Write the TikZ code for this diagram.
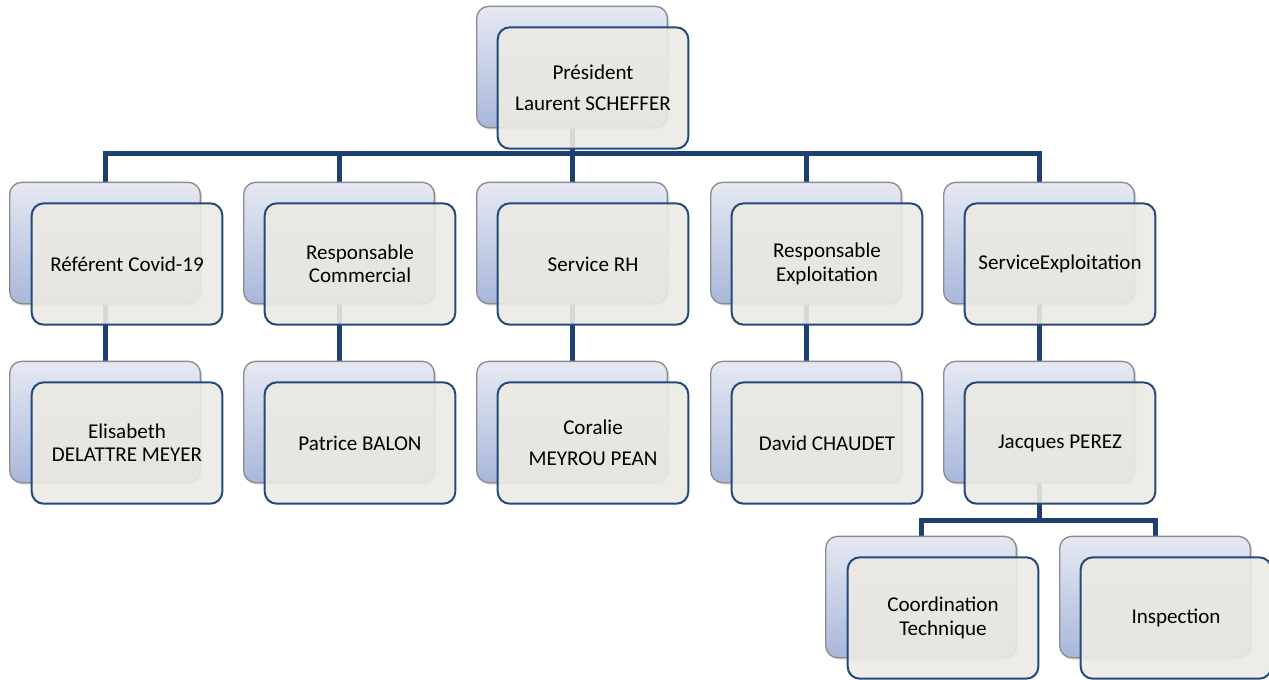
\documentclass[tikz,border=0pt]{standalone}
\usepackage{fontspec}
\setmainfont{Carlito}
\usetikzlibrary{shadows,backgrounds}
\definecolor{linkblue}{HTML}{1F3F73}
\definecolor{frameblue}{HTML}{24497A}
\definecolor{cardfill}{HTML}{ECEAE3}
\definecolor{backtop}{HTML}{E6E9F3}
\definecolor{backbot}{HTML}{A8B7DA}
\definecolor{backline}{HTML}{8C8C8C}
\begin{document}
\begin{tikzpicture}[x=0.75pt, y=-0.75pt,
  back/.style={rounded corners=9pt, draw=backline, line width=1pt,
    top color=backtop, bottom color=backbot,
    minimum width=143pt, minimum height=91pt,
    drop shadow={shadow xshift=1.5pt, shadow yshift=-1.5pt, opacity=0.3}},
  card/.style={rounded corners=9pt, draw=frameblue, line width=1.5pt,
    fill=cardfill, fill opacity=0.9, text opacity=1,
    minimum width=143pt, minimum height=91pt, align=center,
    font=\fontsize{15.8}{17.5}\selectfont},
  link/.style={draw=linkblue, line width=3.75pt, line join=miter}]
  \useasboundingbox (0,0) rectangle (1269,679);
  % top
  \node[back] (pres-b) at (572,67) {};
  \node[card] (pres) at (593,88) {Président\\[6pt]Laurent SCHEFFER};
  % first row
  \node[back] (covid-b) at (105,243) {};
  \node[card] (covid) at (127,264) {Référent Covid-19};
  \node[back] (comm-b) at (339,243) {};
  \node[card] (comm) at (360,264) {Responsable\\Commercial};
  \node[back] (rh-b) at (572,243) {};
  \node[card] (rh) at (593,264) {Service RH};
  \node[back] (expl-b) at (806,243) {};
  \node[card] (expl) at (827,264) {Responsable\\Exploitation};
  \node[back] (sexpl-b) at (1039,243) {};
  \node[card] (sexpl) at (1060,264) {ServiceExploitation};
  % second row
  \node[back] (meyer-b) at (105,422) {};
  \node[card] (meyer) at (127,443) {Elisabeth\\DELATTRE MEYER};
  \node[back] (balon-b) at (339,422) {};
  \node[card] (balon) at (360,443) {Patrice BALON};
  \node[back] (pean-b) at (572,422) {};
  \node[card] (pean) at (593,443) {Coralie\\[6pt]MEYROU PEAN};
  \node[back] (chaudet-b) at (806,422) {};
  \node[card] (chaudet) at (827,443) {David CHAUDET};
  \node[back] (perez-b) at (1039,422) {};
  \node[card] (perez) at (1060,443) {Jacques PEREZ};
  % third row
  \node[back] (coord-b) at (921,597) {};
  \node[card] (coord) at (943,618) {Coordination\\Technique};
  \node[back] (insp-b) at (1155,597) {};
  \node[card] (insp) at (1176,618) {Inspection};
  % links
  \coordinate (top) at (572,153);
  \coordinate (low) at (1039,520);
  \begin{scope}[on background layer]
    \foreach \n in {covid,comm,rh,expl,sexpl}
      \draw[link] (pres-b.center) -- (top) -| (\n-b.center);
    \draw[link] (covid-b.center) -- (meyer-b.center);
    \draw[link] (comm-b.center) -- (balon-b.center);
    \draw[link] (rh-b.center) -- (pean-b.center);
    \draw[link] (expl-b.center) -- (chaudet-b.center);
    \draw[link] (sexpl-b.center) -- (perez-b.center);
    \foreach \n in {coord,insp}
      \draw[link] (perez-b.center) -- (low) -| (\n-b.center);
  \end{scope}
\end{tikzpicture}
\end{document}
